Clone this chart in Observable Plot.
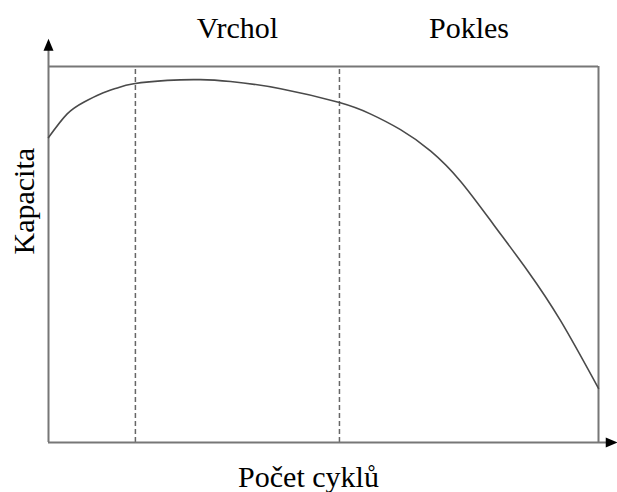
<!DOCTYPE html>
<html>
<head>
<meta charset="utf-8">
<script src="https://cdn.jsdelivr.net/npm/d3@7"></script>
<script src="https://cdn.jsdelivr.net/npm/@observablehq/plot@0.6"></script>
<style>
  html, body { margin: 0; padding: 0; background: #fff; font-family: "Liberation Serif", serif; }
  #fontwarm { font-family: "Liberation Serif"; height: 0; overflow: hidden; }
</style>
</head>
<body>
<div id="fontwarm">&nbsp;</div>
<div id="chart"></div>
<script>
// Conceptual chart: capacity vs. number of cycles (normalised 0–100 units)
const cycles   = [0, 3.4, 6.4, 9.45, 12.5, 15.5, 21.6, 27.6, 33.1, 42.2, 52.9, 58.5, 64.0, 69.5, 74.9, 80.9, 87.1, 93.1, 100];
const capacity = [81.1, 87.4, 90.5, 92.7, 94.3, 95.4, 96.3, 96.5, 96.0, 94.1, 90.4, 87.4, 83.2, 77.5, 69.5, 58.0, 45.7, 32.4, 14.4];
const phaseNames  = ["Vrchol", "Pokles"];
const phaseBounds = [15.8, 52.9, 100];
const xLabel = "Počet cyklů";
const yLabel = "Kapacita";
const xMax = 100, yMax = 100;
const xArrowTip = 103.5, yArrowTip = 107.4;

const curveData = cycles.map((c, i) => ({c, k: capacity[i]}));
const phases = phaseNames.map((name, i) => ({name, mid: (phaseBounds[i] + phaseBounds[i + 1]) / 2}));

const axisColor = "#777";
const serifFamily = "Liberation Serif";

const upArrow = {draw(ctx) { ctx.moveTo(0, 0); ctx.lineTo(-5, 12); ctx.lineTo(5, 12); ctx.closePath(); }};
const rightArrow = {draw(ctx) { ctx.moveTo(0, 0); ctx.lineTo(-12, -5); ctx.lineTo(-12, 5); ctx.closePath(); }};

const chart = Plot.plot({
  width: 617,
  height: 492,
  marginLeft: 48,
  marginRight: 19,
  marginTop: 66,
  marginBottom: 50,
  x: {domain: [0, xMax], axis: null},
  y: {domain: [0, yMax], axis: null},
  style: {fontFamily: serifFamily, background: "#fff"},
  marks: [
    // dashed phase boundaries
    Plot.ruleX(phaseBounds.slice(0, 2), {y1: 0, y2: yMax, stroke: "#666", strokeWidth: 1.5, strokeDasharray: "5,3"}),
    // frame top & right
    Plot.ruleY([yMax], {x1: 0, x2: xMax, stroke: axisColor, strokeWidth: 2}),
    Plot.ruleX([xMax], {y1: 0, y2: yMax, stroke: axisColor, strokeWidth: 2}),
    // axes with arrows
    Plot.ruleX([0], {y1: 0, y2: yArrowTip - 2, stroke: axisColor, strokeWidth: 2}),
    Plot.ruleY([0], {x1: 0, x2: xArrowTip - 2, stroke: axisColor, strokeWidth: 2}),
    Plot.dot([0], {x: 0, y: yArrowTip, symbol: upArrow, fill: "#000", stroke: null, r: 5}),
    Plot.dot([0], {x: xArrowTip, y: 0, symbol: rightArrow, fill: "#000", stroke: null, r: 5}),
    // capacity curve
    Plot.line(curveData, {x: "c", y: "k", curve: "natural", stroke: "#4a4a4a", strokeWidth: 1.6}),
    // phase labels
    Plot.text(phases, {x: "mid", y: yMax, text: "name", dy: -38.6, lineAnchor: "middle", fontSize: 30, fontFamily: serifFamily, fill: "#000"}),
    // axis titles
    Plot.text([xLabel], {frameAnchor: "bottom", dx: -15, dy: 34.4, lineAnchor: "middle", fontSize: 30, fontFamily: serifFamily, fill: "#000"}),
    Plot.text([yLabel], {frameAnchor: "left", rotate: -90, dx: -24.6, lineAnchor: "middle", fontSize: 30, fontFamily: serifFamily, fill: "#000"})
  ]
});
document.getElementById("chart").appendChild(chart);
function applyFont() {
  d3.select(chart).selectAll("text").attr("font-family", serifFamily).style("font-family", "'Liberation Serif', serif");
}
applyFont();
if (document.fonts && document.fonts.load) {
  document.fonts.load("30px 'Liberation Serif'", "VrcholPokesčů").then(applyFont).catch(() => {});
}
</script>
</body>
</html>
